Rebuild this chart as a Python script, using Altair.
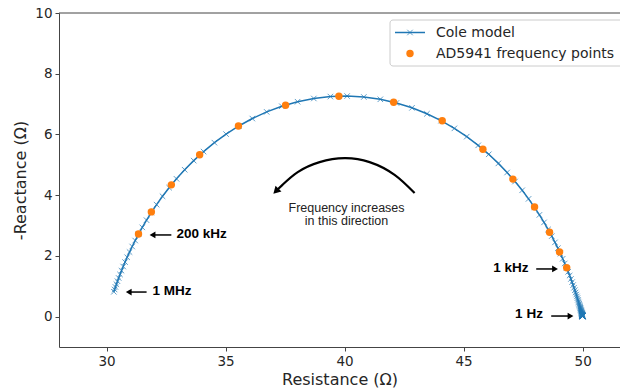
import altair as alt
import pandas as pd

# Cole model curve (Resistance, -Reactance), ordered 1 Hz -> 1 MHz
cole_r = [49.998, 49.998, 49.997, 49.997, 49.997, 49.996, 49.996, 49.996, 49.995, 49.995,
          49.994, 49.994, 49.993, 49.993, 49.992, 49.991, 49.990, 49.989, 49.988, 49.987,
          49.986, 49.985, 49.983, 49.982, 49.980, 49.978, 49.976, 49.973, 49.971, 49.968,
          49.965, 49.962, 49.958, 49.954, 49.949, 49.944, 49.939,
          49.931, 49.924, 49.917, 49.909, 49.900, 49.889, 49.878, 49.866, 49.852, 49.837,
          49.821, 49.802, 49.781, 49.759, 49.733, 49.705, 49.674, 49.639, 49.600, 49.557,
          49.508, 49.454, 49.393, 49.325, 49.249, 49.163, 49.067, 48.960, 48.838, 48.702,
          48.549, 48.378, 48.185, 47.970, 47.729, 47.460, 47.160, 46.827, 46.460, 46.056,
          45.613, 45.131, 44.611, 44.052, 43.458, 42.831, 42.177, 41.500, 40.807, 40.105,
          39.402, 38.706, 38.024, 37.362, 36.726, 36.122, 35.554, 35.020, 34.529, 34.074,
          33.658, 33.280, 32.936, 32.627, 32.349, 32.100, 31.877, 31.678, 31.500, 31.342,
          31.201, 31.075, 30.964, 30.864, 30.776, 30.697, 30.626, 30.564, 30.507, 30.457,
          30.412, 30.372, 30.336, 30.304]
cole_x = [0.007, 0.008, 0.008, 0.009, 0.010, 0.011, 0.012, 0.013, 0.014, 0.016,
          0.017, 0.019, 0.021, 0.023, 0.025, 0.027, 0.030, 0.033, 0.036, 0.039,
          0.043, 0.047, 0.052, 0.057, 0.062, 0.068, 0.075, 0.082, 0.090, 0.098,
          0.108, 0.118, 0.130, 0.142, 0.156, 0.171, 0.187,
          0.204, 0.224, 0.245, 0.269, 0.294, 0.323, 0.353, 0.387, 0.424, 0.464,
          0.508, 0.556, 0.608, 0.666, 0.728, 0.796, 0.871, 0.952, 1.040, 1.136,
          1.240, 1.353, 1.476, 1.608, 1.752, 1.907, 2.074, 2.254, 2.446, 2.652,
          2.872, 3.104, 3.351, 3.609, 3.879, 4.161, 4.450, 4.747, 5.047, 5.346,
          5.642, 5.928, 6.200, 6.453, 6.680, 6.877, 7.037, 7.158, 7.234, 7.265,
          7.248, 7.185, 7.078, 6.929, 6.743, 6.524, 6.279, 6.011, 5.730, 5.436,
          5.138, 4.838, 4.539, 4.247, 3.964, 3.689, 3.427, 3.177, 2.940, 2.717,
          2.506, 2.310, 2.127, 1.956, 1.797, 1.650, 1.514, 1.389, 1.273, 1.166,
          1.068, 0.977, 0.894, 0.818]

# AD5941 frequency points
ad_r = [31.34, 31.88, 32.72, 33.91, 35.54, 37.52, 39.76, 42.06, 44.10, 45.81, 47.07, 47.98, 48.61, 49.03, 49.33]
ad_x = [2.72, 3.45, 4.34, 5.33, 6.28, 6.96, 7.26, 7.06, 6.45, 5.51, 4.53, 3.61, 2.78, 2.13, 1.61]

# Annotation labels
lab_text = ["200 kHz", "1 MHz", "1 kHz", "1 Hz"]
lab_r = [32.94, 31.93, 47.73, 48.33]
lab_x = [2.72, 0.83, 1.61, 0.09]
lab_align = ["left", "left", "right", "right"]
arr_r1 = [32.72, 31.68, 48.05, 48.68]
arr_r2 = [31.97, 30.97, 48.80, 49.45]
arr_x = [2.69, 0.81, 1.57, 0.02]
arr_angle = [270, 270, 90, 90]

# curved "frequency direction" arrow
curve_r = [42.94, 42.10, 41.05, 40.00, 38.95, 38.03, 37.39, 37.15]
curve_x = [4.07, 4.67, 5.09, 5.22, 5.09, 4.76, 4.34, 4.16]
note_lines = ["Frequency increases", "in this direction"]
note_r = [40.08, 40.08]
note_x = [3.59, 3.15]

cole = pd.DataFrame({"r": cole_r, "x": cole_x})
cole["i"] = range(len(cole))
ad = pd.DataFrame({"r": ad_r, "x": ad_x})
labs = pd.DataFrame({"t": lab_text, "r": lab_r, "x": lab_x, "a": lab_align})
arrs = pd.DataFrame({"r1": arr_r1, "r2": arr_r2, "x": arr_x, "ang": arr_angle})
curve = pd.DataFrame({"r": curve_r, "x": curve_x})
curve["i"] = range(len(curve))
notes = pd.DataFrame({"t": note_lines, "r": note_r, "x": note_x})

BLUE = "#1f77b4"
ORANGE = "#ff7f0e"
XPATH = "M-1,-1L1,1M-1,1L1,-1"

xs = alt.Scale(domain=[28, 51.57], nice=False, zero=False)
ys = alt.Scale(domain=[-1, 10], nice=False, zero=False)
xax = alt.Axis(values=[30, 35, 40, 45, 50], title="Resistance (Ω)", grid=False,
               titlePadding=4)
yax = alt.Axis(values=[0, 2, 4, 6, 8, 10], title="-Reactance (Ω)", grid=False,
               titlePadding=6)

X = alt.X("r:Q", scale=xs, axis=xax)
Y = alt.Y("x:Q", scale=ys, axis=yax)

line = alt.Chart(cole).mark_line(color=BLUE, strokeWidth=1.5).encode(
    x=X, y=Y, order="i:Q")
crosses = alt.Chart(cole).mark_point(shape=XPATH, filled=False, color=BLUE,
                                     size=30, strokeWidth=1).encode(x=X, y=Y)
pts = alt.Chart(ad).mark_circle(color=ORANGE, size=55, opacity=1).encode(x=X, y=Y)

lab_layer_l = alt.Chart(labs[labs.a == "left"]).mark_text(
    align="left", baseline="middle", font="Liberation Sans", fontWeight="bold",
    fontSize=13.5, color="black").encode(
    x=alt.X("r:Q", scale=xs), y=alt.Y("x:Q", scale=ys), text="t:N")
lab_layer_r = alt.Chart(labs[labs.a == "right"]).mark_text(
    align="right", baseline="middle", font="Liberation Sans", fontWeight="bold",
    fontSize=13.5, color="black").encode(
    x=alt.X("r:Q", scale=xs), y=alt.Y("x:Q", scale=ys), text="t:N")
arr_lines = alt.Chart(arrs).mark_rule(color="black", strokeWidth=1.5).encode(
    x=alt.X("r1:Q", scale=xs), x2="r2:Q", y=alt.Y("x:Q", scale=ys))
arr_heads = alt.Chart(arrs).mark_point(shape="triangle", filled=True, color="black",
                                       size=45, opacity=1).encode(
    x=alt.X("r2:Q", scale=xs), y=alt.Y("x:Q", scale=ys), angle=alt.Angle("ang:Q", scale=None))

curve_line = alt.Chart(curve).mark_line(color="black", strokeWidth=2.2,
                                        interpolate="natural").encode(
    x=alt.X("r:Q", scale=xs), y=alt.Y("x:Q", scale=ys), order="i:Q")
curve_head = alt.Chart(curve.tail(1)).mark_point(shape="triangle", filled=True,
                                                 color="black", size=70, opacity=1).encode(
    x=alt.X("r:Q", scale=xs), y=alt.Y("x:Q", scale=ys), angle=alt.value(225))
note = alt.Chart(notes).mark_text(align="center", baseline="middle",
                                  font="Liberation Sans", fontSize=12.5,
                                  color="#222").encode(
    x=alt.X("r:Q", scale=xs), y=alt.Y("x:Q", scale=ys), text="t:N")

# top spine
top = alt.Chart(ad.head(1)).mark_rule(color="#444", strokeWidth=1).encode(
    x=alt.value(0), x2=alt.value(561), y=alt.value(0))

# legend
leg_box = alt.Chart(ad.head(1)).mark_rect(fill="white", fillOpacity=0.8, stroke="#cccccc",
                                          strokeWidth=1, cornerRadius=3).encode(
    x=alt.value(331), x2=alt.value(580), y=alt.value(7), y2=alt.value(53))
leg_line = alt.Chart(ad.head(1)).mark_rule(color=BLUE, strokeWidth=1.5).encode(
    x=alt.value(336), x2=alt.value(366), y=alt.value(19.5))
leg_cross = alt.Chart(ad.head(1)).mark_point(shape=XPATH, filled=False, color=BLUE,
                                             size=30, strokeWidth=1).encode(
    x=alt.value(351), y=alt.value(19.5))
leg_dot = alt.Chart(ad.head(1)).mark_circle(color=ORANGE, size=55, opacity=1).encode(
    x=alt.value(351), y=alt.value(40.5))
leg_t1 = alt.Chart(ad.head(1)).mark_text(align="left", baseline="middle", font="DejaVu Sans",
                                         fontSize=14, color="#262626", text="Cole model").encode(
    x=alt.value(377), y=alt.value(19.5))
leg_t2 = alt.Chart(ad.head(1)).mark_text(align="left", baseline="middle", font="DejaVu Sans",
                                         fontSize=14, color="#262626",
                                         text="AD5941 frequency points").encode(
    x=alt.value(377), y=alt.value(40.5))

chart = alt.layer(
    line, crosses, pts, arr_lines, arr_heads, lab_layer_l, lab_layer_r,
    curve_line, curve_head, note, top,
    leg_box, leg_line, leg_cross, leg_dot, leg_t1, leg_t2
).properties(
    width=561, height=334,
    padding={"left": 59, "top": 13, "right": 0, "bottom": 43},
    autosize=alt.AutoSizeParams(type="none"),
).configure_view(strokeWidth=0).configure_axis(
    labelFont="DejaVu Sans", labelFontSize=13.5, labelColor="#262626",
    titleFont="DejaVu Sans", titleFontSize=16, titleFontWeight="normal",
    titleColor="#262626", tickColor="#444", domainColor="#444",
    tickSize=4, labelPadding=3, domainWidth=1, tickWidth=1
)

chart.save("out.html", embed_options={"renderer": "svg", "actions": False})
